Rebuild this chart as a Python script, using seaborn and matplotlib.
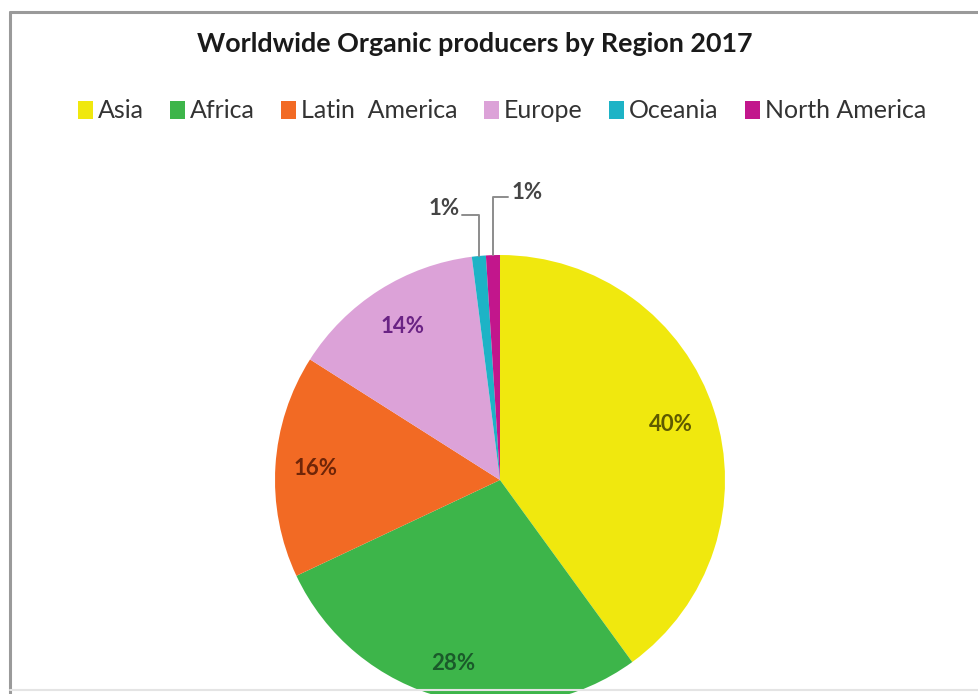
import numpy as np
import matplotlib
matplotlib.use("Agg")
import matplotlib.pyplot as plt
import seaborn as sns
from matplotlib.patches import Patch
from matplotlib.lines import Line2D

# Données
regions = ["Asia", "Africa", "Latin  America", "Europe", "Oceania", "North America"]
parts = [40, 28, 16, 14, 1, 1]
couleurs = ["#F0E80E", "#3DB54A", "#F26A24", "#DCA2D8", "#1DB3C6", "#C2168C"]
couleurs_texte = ["#5E5A00", "#1A5A2A", "#6E2508", "#6A2384", "#454545", "#454545"]
titre = "Worldwide Organic producers by Region 2017"

sns.set_theme(style="white")
plt.rcParams['font.family'] = ['Lato', 'DejaVu Sans']

fig = plt.figure(figsize=(9.79, 6.94), dpi=100)
fig.patch.set_facecolor("white")

# Cadre gris (gauche, haut, bas)
fig.add_artist(Line2D([10/979, 10/979], [0, 1 - 12/694], color="#9A9A9A", lw=2.2, transform=fig.transFigure))
fig.add_artist(Line2D([10/979, 1], [1 - 12/694, 1 - 12/694], color="#9A9A9A", lw=2.2, transform=fig.transFigure))
fig.add_artist(Line2D([10/979, 1], [4/694, 4/694], color="#E4E4E4", lw=1.5, transform=fig.transFigure))

# Camembert (centre ~ (500,480) px, rayon ~225 px)
ax = fig.add_axes([275/979, (694 - 705)/694, 450/979, 450/694])
wedges, _ = ax.pie(parts, colors=sns.color_palette(couleurs), startangle=90,
                   counterclock=False, radius=1, wedgeprops=dict(linewidth=0))
ax.set_xlim(-1, 1)
ax.set_ylim(-1, 1)
ax.set_axis_off()

dist = [0.80, 0.84, 0.82, 0.81]
for i, w in enumerate(wedges):
    ang = np.deg2rad((w.theta1 + w.theta2) / 2)
    x, y = np.cos(ang), np.sin(ang)
    lab = f"{parts[i]}%"
    if i < 4:
        ax.text(dist[i] * x, dist[i] * y, lab, ha="center", va="center",
                fontsize=16, fontweight="bold", color=couleurs_texte[i], clip_on=False)
    elif i == 4:
        # étiquettes extérieures avec ligne de rappel
        yl = 1.178
        ax.plot([x, x, -0.169], [y, yl, yl], color="#8C8C8C", lw=1.4, clip_on=False)
        ax.text(-0.178, yl + 0.03, lab, ha="right", va="center", fontsize=16,
                fontweight="bold", color=couleurs_texte[i], clip_on=False)
    else:
        yl = 1.258
        ax.plot([x, x, 0.036], [y, yl, yl], color="#8C8C8C", lw=1.4, clip_on=False)
        ax.text(0.053, yl + 0.02, lab, ha="left", va="center", fontsize=16,
                fontweight="bold", color=couleurs_texte[i], clip_on=False)

# Titre
fig.text(475/979, 1 - 44/694, titre, ha="center", va="center",
         fontsize=19.4, fontweight="bold", color="#1A1A1A")

# Légende
poignees = [Patch(facecolor=c, edgecolor="none") for c in couleurs]
fig.legend(poignees, regions, loc="center", bbox_to_anchor=(502/979, 1 - 111/694),
           ncol=6, frameon=False, fontsize=18, handlelength=0.6, handleheight=0.7,
           handletextpad=0.2, columnspacing=1.05, labelcolor="#333333")

fig.savefig("out.png", dpi=100)
